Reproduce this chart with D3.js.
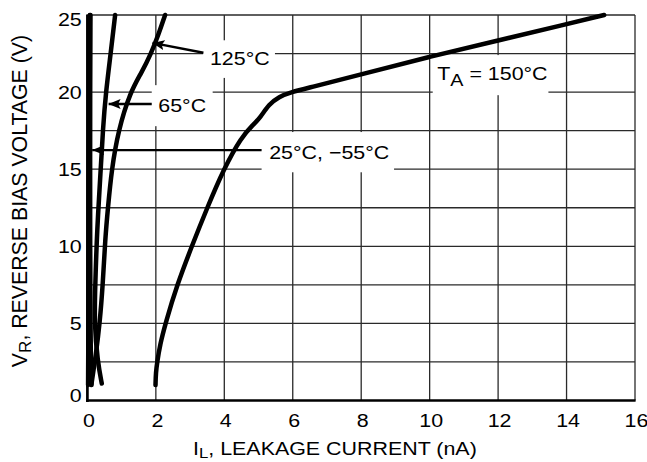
<!DOCTYPE html>
<html><head><meta charset="utf-8">
<script src="https://cdn.jsdelivr.net/npm/d3@7"></script>
<style>
body{margin:0;background:#fff}
svg{display:block}
text{font-family:"Liberation Sans",Arial,Helvetica,sans-serif;fill:#000}
</style>
</head><body>
<svg id="c" width="647" height="462"></svg>
<script>
// ---- data ----
const xTickValues = [0, 2, 4, 6, 8, 10, 12, 14, 16];
const yTickValues = [0, 5, 10, 15, 20, 25];
const xGridValues = [2, 4, 6, 8, 10, 12, 14, 16];
const yGridValues = [2.5, 5, 7.5, 10, 12.5, 15, 17.5, 20, 22.5, 25];

// leakage current (nA), reverse voltage (V)
const seriesT150 = [[1.99,1.0],[2.0,1.8],[2.04,2.5],[2.12,3.6],[2.28,5],[2.62,7.5],[3.05,10],[3.5,12.5],[3.98,15],[4.5,17.1],[4.85,17.9],[5.05,18.35],[5.3,19.2],[5.6,19.7],[5.95,20.0],[6.5,20.3],[8,21.15],[10,22.3],[12,23.35],[14,24.4],[15.1,25]];
const seriesT125 = [[0.12,1.1],[0.25,3],[0.36,5],[0.45,7.5],[0.52,10.5],[0.6,12.5],[0.71,15],[0.9,17.5],[1.25,20],[1.58,21.25],[1.86,22.5],[2.08,23.75],[2.27,25]];
const seriesT65 = [[0.42,1.1],[0.3,2.5],[0.2,5],[0.23,7.5],[0.28,11],[0.39,15],[0.45,17.5],[0.54,20],[0.68,22.5],[0.81,25]];
const seriesT25 = [[0.12,1.0],[0.1,2.5],[0.09,5],[0.08,10],[0.08,15],[0.08,20],[0.09,25]];
const seriesTm55 = [[0.02,1.0],[0.03,5],[0.04,10],[0.05,15],[0.06,20],[0.07,25]];
const allSeries = [seriesT150, seriesT125, seriesT65, seriesT25, seriesTm55];

// annotations (data coordinates)
const arrowTails = [[3.39,22.55],[1.88,19.23],[5.09,16.24]];
const arrowTips  = [[1.9,23.19],[0.62,19.23],[0.14,16.24]];
const labelTexts = ["125°C", "65°C", "25°C, −55°C"];
const labelAnchors = [[3.58,21.76],[2.07,18.73],[5.31,15.66]];
const labelBoxes = [[3.38,5.48,23.36,20.92],[1.88,3.66,20.45,17.79],[5.09,8.96,17.41,14.8],[10.09,13.47,22.4,19.8]];
const taAnchor = [10.22, 20.78];

// ---- drawing ----
const svg = d3.select("#c");
const W = 647, H = 462;
const x = d3.scaleLinear().domain([0, 16]).range([87.4, 635]);
const y = d3.scaleLinear().domain([0, 25]).range([400.5, 15]);
const FS = 18.8, SX = 1.14;

svg.append("rect").attr("width", W).attr("height", H).attr("fill", "#fff");

// grid
const grid = svg.append("g").attr("stroke", "#2a2a2a").attr("stroke-width", 1.3);
grid.selectAll("line.v").data(xGridValues).join("line")
  .attr("x1", d => x(d)).attr("x2", d => x(d)).attr("y1", y(25)).attr("y2", y(0));
grid.selectAll("line.h").data(yGridValues).join("line")
  .attr("y1", d => y(d)).attr("y2", d => y(d)).attr("x1", x(0)).attr("x2", x(16));

// label boxes (break the grid)
svg.append("g").selectAll("rect").data(labelBoxes).join("rect")
  .attr("x", d => x(d[0])).attr("width", d => x(d[1]) - x(d[0]))
  .attr("y", d => y(d[2])).attr("height", d => y(d[3]) - y(d[2]))
  .attr("fill", "#fff");

// axes (left & bottom heavy)
svg.append("line").attr("x1", x(0)).attr("x2", x(0)).attr("y1", y(25) - 0.6).attr("y2", y(0) + 1.4)
  .attr("stroke", "#000").attr("stroke-width", 2.7);
svg.append("line").attr("x1", x(0) - 1.3).attr("x2", x(16) + 0.6).attr("y1", y(0)).attr("y2", y(0))
  .attr("stroke", "#000").attr("stroke-width", 2.7);

// curves
const line = d3.line().x(d => x(d[0])).y(d => y(d[1])).curve(d3.curveBasis);
svg.append("g").selectAll("path").data(allSeries).join("path")
  .attr("d", line).attr("fill", "none").attr("stroke", "#000")
  .attr("stroke-width", 4.5).attr("stroke-linecap", "round").attr("stroke-linejoin", "round");

// arrows
svg.append("defs").append("marker").attr("id", "ah")
  .attr("viewBox", "0 0 12 10").attr("refX", 12).attr("refY", 5)
  .attr("markerWidth", 12).attr("markerHeight", 10).attr("markerUnits", "userSpaceOnUse")
  .attr("orient", "auto")
  .append("path").attr("d", "M0,0 L12,5 L0,10 L2.5,5 Z").attr("fill", "#000");
svg.append("g").selectAll("line").data(arrowTails).join("line")
  .attr("x1", d => x(d[0])).attr("y1", d => y(d[1]))
  .attr("x2", (d, i) => x(arrowTips[i][0])).attr("y2", (d, i) => y(arrowTips[i][1]))
  .attr("stroke", "#000").attr("stroke-width", 2.4).attr("marker-end", "url(#ah)");

function stretchedText(px, py, anchor) {
  return svg.append("text")
    .attr("transform", `translate(${px},${py}) scale(${SX},1)`)
    .attr("text-anchor", anchor).attr("font-size", FS);
}

// labels
labelTexts.forEach((t, i) => {
  stretchedText(x(labelAnchors[i][0]), y(labelAnchors[i][1]), "start").text(t);
});
const ta = stretchedText(x(taAnchor[0]), y(taAnchor[1]), "start");
ta.append("tspan").text("T");
ta.append("tspan").attr("dy", 6).attr("font-size", FS * 0.92).text("A");
ta.append("tspan").attr("dy", -6).text(" = 150°C");

// tick labels
xTickValues.forEach(v => {
  stretchedText(x(v) + 1.5, 427, "middle").text(v);
});
yTickValues.forEach(v => {
  const by = Math.max(26, Math.min(401.5, y(v) + 7));
  stretchedText(81.7, by, "end").text(v);
});

// axis titles
const xt = stretchedText(193, 455, "start");
xt.append("tspan").text("I");
xt.append("tspan").attr("dy", 3).attr("font-size", FS * 0.78).text("L");
xt.append("tspan").attr("dy", -3).text(", LEAKAGE CURRENT (nA)");

const yt = svg.append("text")
  .attr("transform", `translate(27,201) rotate(-90)`)
  .attr("text-anchor", "middle").attr("font-size", 21.3);
yt.append("tspan").text("V");
yt.append("tspan").attr("dy", 4).attr("font-size", 21.3 * 0.8).text("R");
yt.append("tspan").attr("dy", -4).text(", REVERSE BIAS VOLTAGE (V)");
</script>
</body></html>
